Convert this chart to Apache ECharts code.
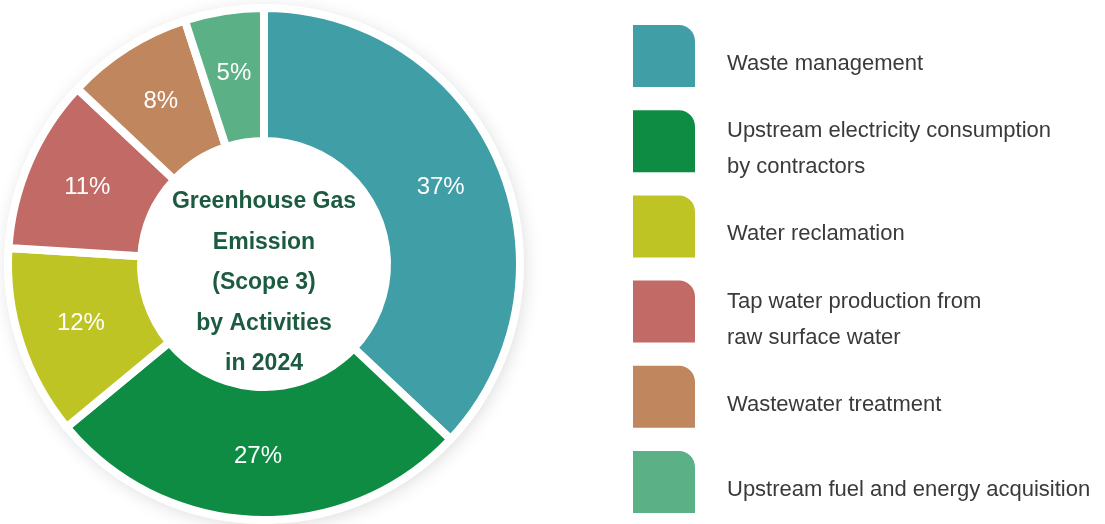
<!DOCTYPE html>
<html>
<head>
<meta charset="utf-8">
<script src="https://cdn.jsdelivr.net/npm/echarts@6/dist/echarts.min.js"></script>
<style>
html,body{margin:0;padding:0;background:#fff;}
#chart{width:1105px;height:524px;}
</style>
</head>
<body>
<div id="chart"></div>
<script>
const categories = [
  'Waste management',
  'Upstream electricity consumption\nby contractors',
  'Water reclamation',
  'Tap water production from\nraw surface water',
  'Wastewater treatment',
  'Upstream fuel and energy acquisition'
];
const shares = [37, 27, 12, 11, 8, 5];
const colors = ['#3f9ea6', '#0f8c44', '#bec424', '#c26b66', '#c0865e', '#5bb085'];
const centerTitle = 'Greenhouse Gas\nEmission\n(Scope 3)\nby Activities\nin 2024';

const chart = echarts.init(document.getElementById('chart'), null, {renderer: 'canvas'});

// visible 62x62 tile with rounded top-right corner; the trailing zero-area segment
// extends the icon box downward so the label sits slightly below the tile centre
const iconPath = 'path://M0,0 L46,0 C54.8,0 62,7.2 62,16 L62,62 L0,62 Z M0,78 L62,78';

const legends = categories.map((name, i) => ({
  orient: 'vertical',
  left: 633,
  top: 25 + 85.2 * i,
  padding: 0,
  itemWidth: 62,
  itemHeight: 78,
  icon: iconPath,
  selectedMode: false,
  data: [name],
  itemStyle: {borderWidth: 0},
  textStyle: {
    fontFamily: 'Liberation Sans, Arial, sans-serif',
    fontSize: 22,
    color: '#3a3a3a',
    lineHeight: 36,
    padding: [0, 0, 0, 27]
  }
}));

chart.setOption({
  animation: false,
  legend: legends,
  graphic: [{
    type: 'text',
    z: 100,
    style: {
      text: centerTitle,
      x: 264,
      y: 283,
      align: 'center',
      verticalAlign: 'middle',
      fill: '#1c5b40',
      font: 'bold 23px "Liberation Sans", Arial, sans-serif',
      lineHeight: 40.5
    }
  }],
  series: [
    {
      type: 'pie',
      name: 'shadow',
      silent: true,
      center: [264, 264],
      radius: [0, 256],
      label: {show: false},
      labelLine: {show: false},
      itemStyle: {
        color: '#ffffff',
        shadowBlur: 20,
        shadowColor: 'rgba(0,0,0,0.18)',
        shadowOffsetX: 2,
        shadowOffsetY: 3
      },
      data: [{value: 1, name: '_bg'}],
      z: 1
    },
    {
      type: 'pie',
      name: 'GHG',
      center: [264, 264],
      radius: [123, 256],
      startAngle: 90,
      clockwise: true,
      silent: true,
      z: 2,
      itemStyle: {
        borderColor: '#ffffff',
        borderWidth: 8
      },
      label: {
        show: true,
        position: 'inside',
        formatter: '{c}%',
        color: '#ffffff',
        fontFamily: 'Liberation Sans, Arial, sans-serif',
        fontSize: 24
      },
      labelLine: {show: false},
      data: categories.map((name, i) => ({
        name: name,
        value: shares[i],
        itemStyle: {color: colors[i]}
      }))
    }
  ]
});
</script>
</body>
</html>
